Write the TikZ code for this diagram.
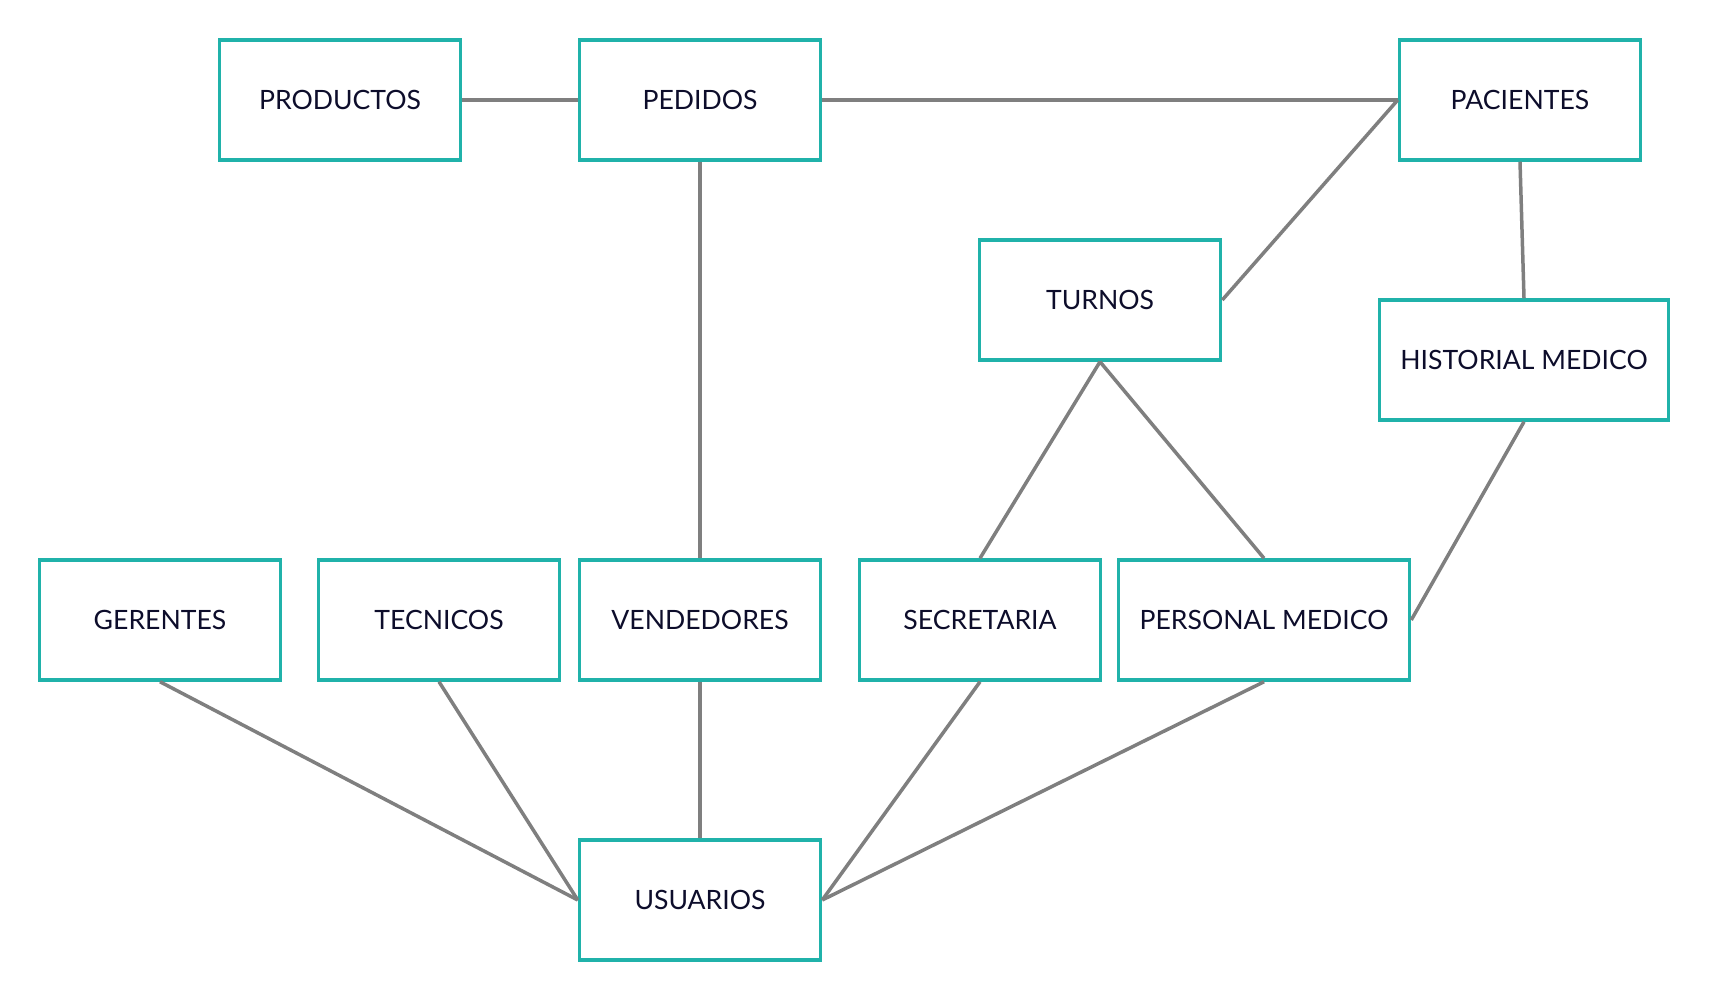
\documentclass[tikz,border=0pt]{standalone}
\usepackage{fontspec}
\setmainfont{Lato}
\definecolor{caja}{HTML}{20B2AA}
\definecolor{linea}{HTML}{7F7F7F}
\definecolor{texto}{HTML}{0D0D2B}
\tikzset{
	tabla/.style={draw=caja, line width=3.5pt, fill=white, minimum width=241pt, minimum height=120pt, inner sep=0pt, text=texto, font=\fontsize{26.6}{30}\selectfont},
	rel/.style={draw=linea, line width=3.5pt}
}
\begin{document}
\begin{tikzpicture}[x=1pt,y=-1pt]
			\useasboundingbox (0,0) rectangle (1710,1000);
			\node [tabla] (productos) at (340,100) {PRODUCTOS};
			\node [tabla] (pedidos) at (700,100) {PEDIDOS};
			\node [tabla] (pacientes) at (1520,100) {PACIENTES};
			\node [tabla] (turnos) at (1100,300) {TURNOS};
			\node [tabla, minimum width=289pt] (historial) at (1524,360) {HISTORIAL MEDICO};
			\node [tabla] (gerentes) at (160,620) {GERENTES};
			\node [tabla] (tecnicos) at (439,620) {TECNICOS};
			\node [tabla] (vendedores) at (700,620) {VENDEDORES};
			\node [tabla] (secretaria) at (980,620) {SECRETARIA};
			\node [tabla, minimum width=291pt] (personal) at (1264,620) {PERSONAL MEDICO};
			\node [tabla] (usuarios) at (700,900) {USUARIOS};
			\draw [rel] (productos.east) to (pedidos.west);
			\draw [rel] (pedidos.east) to (pacientes.west);
			\draw [rel] (pacientes.west) to (turnos.east);
			\draw [rel] (pedidos.south) to (vendedores.north);
			\draw [rel] (pacientes.south) to (historial.north);
			\draw [rel] (turnos.south) to (secretaria.north);
			\draw [rel] (turnos.south) to (personal.north);
			\draw [rel] (historial.south) to (personal.east);
			\draw [rel] (gerentes.south) to (usuarios.west);
			\draw [rel] (tecnicos.south) to (usuarios.west);
			\draw [rel] (vendedores.south) to (usuarios.north);
			\draw [rel] (secretaria.south) to (usuarios.east);
			\draw [rel] (personal.south) to (usuarios.east);
\end{tikzpicture}
\end{document}
